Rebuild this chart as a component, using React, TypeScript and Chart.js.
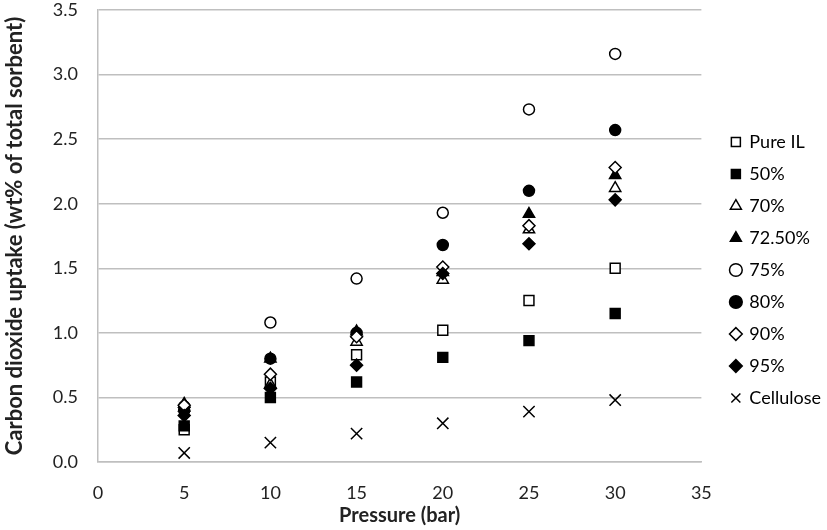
import { useEffect, useRef } from 'react';
import { Chart, registerables } from 'chart.js';

Chart.register(...registerables);

const pressures = [5, 10, 15, 20, 25, 30];
const seriesNames = ['Pure IL', '50%', '70%', '72.50%', '75%', '80%', '90%', '95%', 'Cellulose'];
const pureIL = [0.25, 0.62, 0.83, 1.02, 1.25, 1.50];
const pct50 = [0.28, 0.50, 0.62, 0.81, 0.94, 1.15];
const pct70 = [0.42, 0.60, 0.93, 1.41, 1.80, 2.12];
const pct725 = [0.45, 0.80, 1.01, 1.47, 1.92, 2.22];
const pct75 = [0.43, 1.08, 1.42, 1.93, 2.73, 3.16];
const pct80 = [0.40, 0.80, 1.00, 1.68, 2.10, 2.57];
const pct90 = [0.44, 0.68, 0.97, 1.51, 1.83, 2.28];
const pct95 = [0.36, 0.57, 0.75, 1.46, 1.69, 2.03];
const cellulose = [0.07, 0.15, 0.22, 0.30, 0.39, 0.48];
const yTicks = [0, 0.5, 1, 1.5, 2, 2.5, 3, 3.5];

const FONT = 'Lato, "Liberation Sans", sans-serif';
const LEGEND_GAP = 16;

// widen the gap between plot and legend without changing row spacing
const legendGap = {
  id: 'legendGap',
  afterInit(chart: any) {
    const legend = chart.legend;
    if (!legend) return;
    const fit = legend.fit.bind(legend);
    legend.fit = () => {
      fit();
      legend.width += LEGEND_GAP;
    };
  },
  afterLayout(chart: any) {
    if (chart.legend) chart.legend.left += LEGEND_GAP;
  },
};

export default function App() {
  const canvasRef = useRef<HTMLCanvasElement | null>(null);

  useEffect(() => {
    document.body.style.margin = '0';
    const canvas = canvasRef.current;
    if (!canvas) return;

    const values = [pureIL, pct50, pct70, pct725, pct75, pct80, pct90, pct95, cellulose];
    const styles: { ps: any; fill: boolean; r: number }[] = [
      { ps: 'rect', fill: false, r: 7 },
      { ps: 'rect', fill: true, r: 7 },
      { ps: 'triangle', fill: false, r: 6.5 },
      { ps: 'triangle', fill: true, r: 6.5 },
      { ps: 'circle', fill: false, r: 5.5 },
      { ps: 'circle', fill: true, r: 5.5 },
      { ps: 'rectRot', fill: false, r: 6 },
      { ps: 'rectRot', fill: true, r: 6 },
      { ps: 'crossRot', fill: false, r: 8 },
    ];

    const chart = new Chart(canvas, {
      type: 'scatter',
      data: {
        datasets: seriesNames.map((name, i) => ({
          label: name,
          data: pressures.map((p, j) => ({ x: p, y: values[i][j] })),
          pointStyle: styles[i].ps,
          pointRadius: styles[i].r,
          pointHoverRadius: styles[i].r,
          pointBackgroundColor: styles[i].fill ? '#000' : '#fff',
          backgroundColor: styles[i].fill ? '#000' : '#fff',
          borderColor: '#000',
          pointBorderColor: '#000',
          pointBorderWidth: 1.5,
          borderWidth: 1.5,
          showLine: false,
          order: seriesNames.length - i,
        })),
      },
      options: {
        animation: false,
        responsive: false,
        layout: { padding: { top: 10, right: -4, bottom: 0, left: 2 } },
        plugins: {
          tooltip: { enabled: false },
          legend: {
            position: 'right',
            labels: {
              usePointStyle: true,
              boxWidth: 9,
              boxHeight: 9,
              padding: 14,
              color: '#000',
              font: { family: FONT, size: 18 },
              sort: (a, b) => (a.datasetIndex ?? 0) - (b.datasetIndex ?? 0),
            },
          },
        },
        scales: {
          x: {
            type: 'linear',
            min: 0,
            max: 35,
            afterFit: (axis) => {
              axis.height = 68;
              axis.paddingLeft = 0;
              axis.paddingRight = 0;
            },
            ticks: { stepSize: 5, color: '#222', font: { family: FONT, size: 18 }, padding: 12 },
            grid: { display: false },
            border: { display: true, color: '#BFBFBF', width: 1.5 },
            title: {
              display: true,
              text: 'Pressure (bar)',
              color: '#222',
              font: { family: FONT, size: 20, weight: 'bold' },
              padding: { top: 0, bottom: 2 },
            },
          },
          y: {
            type: 'linear',
            min: 0,
            max: 3.5,
            afterFit: (axis) => {
              axis.width = 96;
              axis.paddingTop = 0;
              axis.paddingBottom = 0;
            },
            afterBuildTicks: (axis) => {
              axis.ticks = yTicks.map((v) => ({ value: v }));
            },
            ticks: {
              color: '#222',
              font: { family: FONT, size: 18 },
              padding: 20,
              callback: (v) => Number(v).toFixed(1),
            },
            grid: { color: '#BFBFBF', lineWidth: 1.5, drawTicks: false },
            border: { display: true, color: '#BFBFBF', width: 1.5 },
            title: {
              display: true,
              text: 'Carbon dioxide uptake (wt% of total sorbent)',
              color: '#222',
              font: { family: FONT, size: 22, weight: 'bold' },
              padding: { top: 0, bottom: 4 },
            },
          },
        },
      },
      plugins: [legendGap],
    });

    return () => {
      chart.destroy();
    };
  }, []);

  return (
    <div style={{ width: 827, height: 530, background: '#fff' }}>
      <canvas ref={canvasRef} width={827} height={530} />
    </div>
  );
}
